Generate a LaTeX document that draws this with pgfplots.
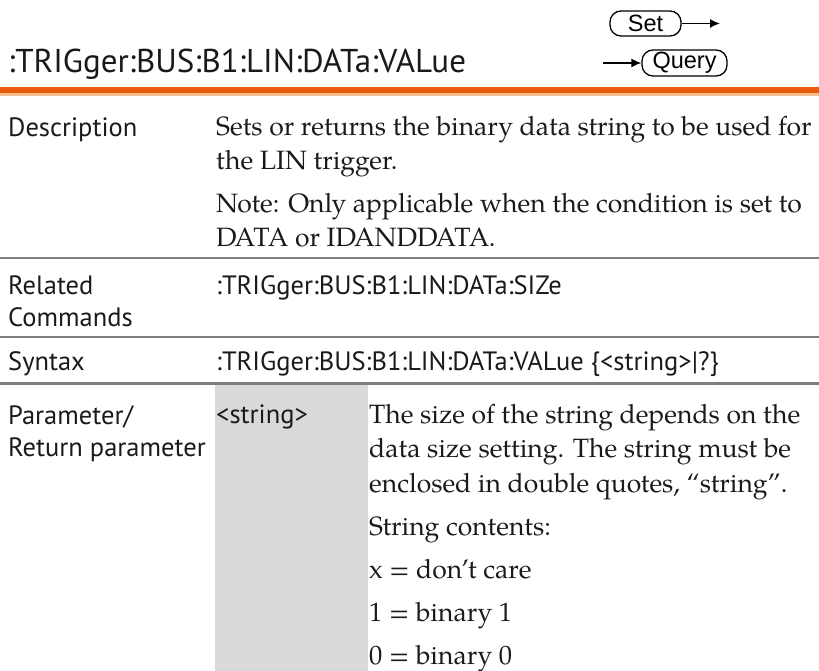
\documentclass[border=0pt]{standalone}
\usepackage{pgfplots}
\pgfplotsset{compat=1.18}
\usepackage{fontspec}
\setmainfont{TeX Gyre Pagella}
\newfontfamily\labelfont{PT Sans}
\newfontfamily\btnfont{Liberation Sans}
\usetikzlibrary{arrows.meta}
\definecolor{orangeline}{HTML}{EC5A0E}
\definecolor{paleorange}{HTML}{F7BE90}
\definecolor{rulegray}{HTML}{7F7F7F}
\definecolor{graybg}{HTML}{D9D9D9}
\definecolor{txt}{HTML}{1A1A1A}
\begin{document}
\begin{tikzpicture}
\begin{axis}[width=819pt,height=671pt,scale only axis,
  xmin=0,xmax=819,ymin=0,ymax=671,y dir=reverse,hide axis,clip=false]
% shaded parameter cell
\addplot[fill=graybg,draw=none] coordinates {(215,384) (368,384) (368,671) (215,671)} -- cycle;
% rules
\addplot[orangeline,line width=6pt] coordinates {(0,90) (819,90)};
\addplot[paleorange,line width=3pt] coordinates {(0,95) (819,95)};
\addplot[rulegray,line width=2.6pt] coordinates {(0,258) (819,258)};
\addplot[rulegray,line width=2.6pt] coordinates {(0,337) (819,337)};
\addplot[rulegray,line width=2.6pt] coordinates {(0,383.5) (819,383.5)};
% title
\node[anchor=base west,text=txt,inner sep=0pt,font=\labelfont\fontsize{33}{33}\selectfont] at (axis cs:8,73) {:TRIGger:BUS:B1:LIN:DATa:VALue};
% buttons
\node[draw,rounded corners=11pt,line width=1.3pt,inner sep=0pt,minimum width=71pt,minimum height=25pt,font=\btnfont\fontsize{23.5}{23.5}\selectfont] (set) at (axis cs:645.5,23.5) {Set};
\draw[line width=1.6pt,-{Latex[length=10pt,width=9pt]}] (set.east) -- (axis cs:720,23.5);
\node[draw,rounded corners=11pt,line width=1.3pt,inner sep=0pt,minimum width=85pt,minimum height=26pt,font=\btnfont\fontsize{23.5}{23.5}\selectfont] (q) at (axis cs:684.5,63) {Query};
\draw[line width=1.6pt,-{Latex[length=10pt,width=9pt]}] (axis cs:603,63) -- (q.west);
% labels
\begin{scope}[every node/.style={anchor=base west,text=txt,inner sep=0pt,font=\labelfont\fontsize{26.5}{26.5}\selectfont}]
\node at (axis cs:8,137) {Description};
\node at (axis cs:8,294) {Related};
\node at (axis cs:8,326) {Commands};
\node at (axis cs:8,370) {Syntax};
\node at (axis cs:8,424) {Parameter/};
\node at (axis cs:8,456) {Return parameter};
\node at (axis cs:216,294) {:TRIGger:BUS:B1:LIN:DATa:SIZe};
\node at (axis cs:216,370) {:TRIGger:BUS:B1:LIN:DATa:VALue \{<string>|?\}};
\node at (axis cs:216,423) {<string>};
\end{scope}
\begin{scope}[every node/.style={anchor=base west,text=txt,inner sep=0pt,font=\fontsize{26.5}{26.5}\selectfont}]
\node at (axis cs:216,136) {Sets or returns the binary data string to be used for};
\node at (axis cs:216,170) {the LIN trigger.};
\node at (axis cs:216,213) {Note: Only applicable when the condition is set to};
\node at (axis cs:216,247) {DATA or IDANDDATA.};
\node at (axis cs:369,423) {The size of the string depends on the};
\node at (axis cs:369,457) {data size setting. The string must be};
\node at (axis cs:369,492) {enclosed in double quotes, “string”.};
\node at (axis cs:369,535) {String contents:};
\node at (axis cs:369,578) {x = don’t care};
\node at (axis cs:369,621) {1 = binary 1};
\node at (axis cs:369,664) {0 = binary 0};
\end{scope}
\end{axis}
\pgfresetboundingbox
\path (current axis.south west) rectangle (current axis.north east);
\end{tikzpicture}
\end{document}
